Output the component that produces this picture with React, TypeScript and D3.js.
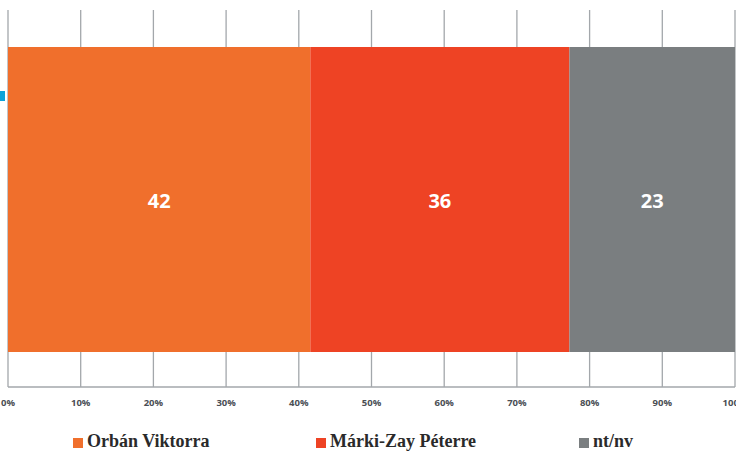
import React from "react";
import * as d3 from "d3";

const categories = ["Orbán Viktorra", "Márki-Zay Péterre", "nt/nv"];
const values = [42, 36, 23];
const colors = ["#F06F2C", "#EE4324", "#7A7E80"];
const tickValues = [0, 10, 20, 30, 40, 50, 60, 70, 80, 90, 100];

const W = 736;
const H = 451;

export default function App() {
  const x = d3.scaleLinear().domain([0, 100]).range([8, 735]);
  const total = d3.sum(values);
  let cum = 0;
  const segs = values.map((v, i) => {
    const s = (cum / total) * 100;
    cum += v;
    const e = (cum / total) * 100;
    return { v, s, e, c: colors[i], name: categories[i] };
  });
  const barTop = 47;
  const barBottom = 352;
  const gridTop = 10;
  const axisY = 387;
  const legendX = [73, 316, 579];
  return (
    <svg
      width={W}
      height={H}
      style={{ position: "absolute", left: 0, top: 0, background: "#fff" }}
    >
      {tickValues.map((t) => (
        <line
          key={t}
          x1={x(t)}
          x2={x(t)}
          y1={gridTop}
          y2={axisY}
          stroke="#A3A7AB"
          strokeWidth={1.3}
        />
      ))}
      <line x1={x(0)} x2={x(100)} y1={axisY} y2={axisY} stroke="#A3A7AB" strokeWidth={1.3} />
      {segs.map((s, i) => (
        <g key={i}>
          <rect
            x={x(s.s)}
            y={barTop}
            width={x(s.e) - x(s.s)}
            height={barBottom - barTop}
            fill={s.c}
          />
          <text
            x={(x(s.s) + x(s.e)) / 2}
            y={200}
            textAnchor="middle"
            dominantBaseline="central"
            fill="#fff"
            fontFamily="'Open Sans', sans-serif"
            fontWeight={700}
            fontSize={20}
          >
            {s.v}
          </text>
        </g>
      ))}
      {tickValues.map((t) => (
        <text
          key={t}
          x={x(t)}
          y={402}
          textAnchor="middle"
          dominantBaseline="central"
          fill="#4A4E55"
          fontFamily="'Open Sans', sans-serif"
          fontWeight={700}
          fontSize={9.5}
        >
          {t}%
        </text>
      ))}
      <rect x={0} y={91} width={5} height={10} fill="#0AA3DA" />
      {categories.map((c, i) => (
        <g key={c}>
          <rect x={legendX[i]} y={438} width={10} height={10} fill={colors[i]} />
          <text
            x={legendX[i] + 14}
            y={447}
            fill="#2A2A2A"
            fontFamily="'Liberation Serif', 'DejaVu Serif', serif"
            fontWeight={700}
            fontSize={18}
          >
            {c}
          </text>
        </g>
      ))}
    </svg>
  );
}
